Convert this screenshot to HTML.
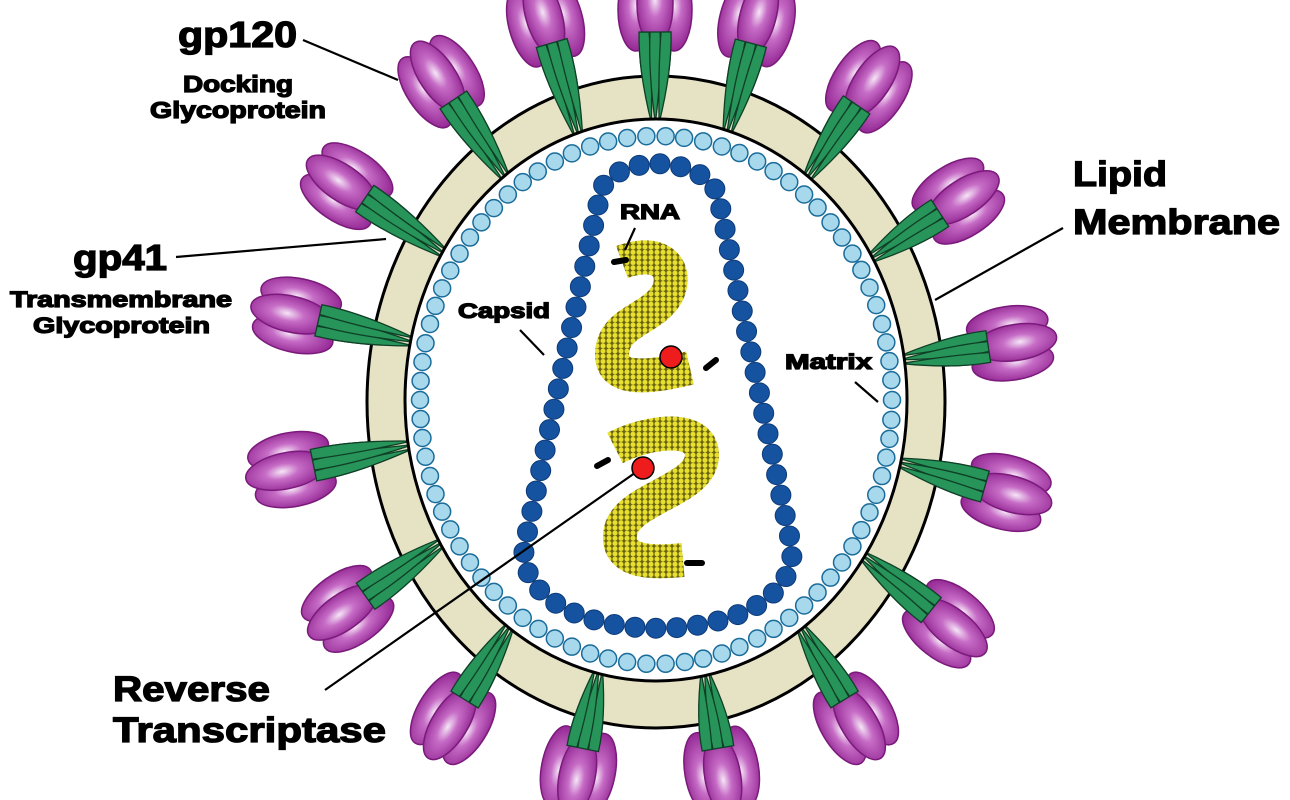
<!DOCTYPE html>
<html><head><meta charset="utf-8"><style>
html,body{margin:0;padding:0;background:#fff;width:1290px;height:800px;overflow:hidden}
svg{display:block}
text{font-family:"Liberation Sans",sans-serif;font-weight:bold;fill:#000;stroke:#000;stroke-width:1.3px}
</style></head><body>
<svg id="s" width="1290" height="800" viewBox="0 0 1290 800" xmlns="http://www.w3.org/2000/svg">
<defs>
<radialGradient id="pg" cx="0.5" cy="0.45" r="0.6">
<stop offset="0" stop-color="#f6e6f6"/><stop offset="0.35" stop-color="#c66cc6"/><stop offset="1" stop-color="#8e1f8e"/>
</radialGradient>
<pattern id="dots" width="6" height="5.2" patternUnits="userSpaceOnUse">
<rect width="6" height="5.2" fill="#6b6410"/>
<circle cx="3" cy="2.6" r="2.5" fill="#e8e030"/>
</pattern>
</defs>
<g id="spikes"></g>
<ellipse cx="656" cy="402" rx="289" ry="326" fill="#e6e2c4" stroke="#000" stroke-width="3"/>
<g id="stems"></g>
<ellipse cx="656" cy="400" rx="251" ry="281" fill="#fff" stroke="#000" stroke-width="3"/>
<g id="matrix"></g>
<g id="capsid"></g>
<path d="M622,262 C660,248 678,268 668,292 C655,320 612,320 612,355 C612,385 660,375 690,368" fill="none" stroke="url(#dots)" stroke-width="34" stroke-linejoin="round"/>
<path d="M615,448 C650,430 702,425 702,455 C702,492 622,498 620,535 C618,566 660,562 683,560" fill="none" stroke="url(#dots)" stroke-width="34" stroke-linejoin="round"/>
<g stroke="#000" stroke-width="6" stroke-linecap="round">
<line x1="614" y1="262" x2="626" y2="260"/>
<line x1="706" y1="368" x2="716" y2="360"/>
<line x1="597" y1="466" x2="608" y2="460"/>
<line x1="687" y1="563" x2="702" y2="563"/>
</g>
<g stroke="#000" stroke-width="2.2">
<line x1="303" y1="40" x2="398" y2="80"/>
<line x1="176" y1="257" x2="386" y2="239"/>
<line x1="935" y1="300" x2="1063" y2="228"/>
<line x1="520" y1="330" x2="544" y2="355"/>
<line x1="635" y1="228" x2="625" y2="250"/>
<line x1="855" y1="382" x2="878" y2="402"/>
<line x1="325" y1="690" x2="642" y2="468"/>
</g>
<circle cx="671" cy="357" r="11" fill="#ee1c1c" stroke="#000" stroke-width="1.5"/>
<circle cx="643" cy="468" r="11" fill="#ee1c1c" stroke="#000" stroke-width="1.5"/>
<g lengthAdjust="spacingAndGlyphs">
<text x="178" y="47" font-size="36" textLength="119" lengthAdjust="spacingAndGlyphs">gp120</text>
<text x="183" y="92" font-size="23" textLength="110" lengthAdjust="spacingAndGlyphs">Docking</text>
<text x="150" y="118" font-size="23" textLength="176" lengthAdjust="spacingAndGlyphs">Glycoprotein</text>
<text x="73" y="270" font-size="36" textLength="94" lengthAdjust="spacingAndGlyphs">gp41</text>
<text x="10" y="307" font-size="22" textLength="222" lengthAdjust="spacingAndGlyphs">Transmembrane</text>
<text x="33" y="333" font-size="22" textLength="177" lengthAdjust="spacingAndGlyphs">Glycoprotein</text>
<text x="1073" y="186" font-size="35" textLength="94" lengthAdjust="spacingAndGlyphs">Lipid</text>
<text x="1073" y="234" font-size="35" textLength="207" lengthAdjust="spacingAndGlyphs">Membrane</text>
<text x="458" y="318" font-size="21" textLength="92" lengthAdjust="spacingAndGlyphs">Capsid</text>
<text x="620" y="219" font-size="21" textLength="60" lengthAdjust="spacingAndGlyphs">RNA</text>
<text x="785" y="369" font-size="21" textLength="87" lengthAdjust="spacingAndGlyphs">Matrix</text>
<text x="113" y="701" font-size="35" textLength="157" lengthAdjust="spacingAndGlyphs">Reverse</text>
<text x="113" y="742" font-size="35" textLength="273" lengthAdjust="spacingAndGlyphs">Transcriptase</text>
</g>
</svg>
<script>
var NS="http://www.w3.org/2000/svg";
function el(t,a,p){var e=document.createElementNS(NS,t);for(var k in a)e.setAttribute(k,a[k]);p.appendChild(e);return e;}
var cx=656,cy=400;
var m=document.getElementById("matrix");
var pts=[];for(var i=0;i<2000;i++){var t=i/2000*2*Math.PI;pts.push([cx+236*Math.cos(t),cy+264*Math.sin(t)]);}
var L=0,acc=[0];for(var i=1;i<pts.length;i++){L+=Math.hypot(pts[i][0]-pts[i-1][0],pts[i][1]-pts[i-1][1]);acc.push(L);}
var n=Math.round(L/19.2),j=0;
for(var k=0;k<n;k++){var d=k*L/n;while(acc[j]<d)j++;el("circle",{cx:pts[j][0],cy:pts[j][1],r:8.5,fill:"#a8d8ec",stroke:"#1a6c9a","stroke-width":1.5},m);}
var c=document.getElementById("capsid");
var tp=el("path",{d:"M598,205 C596,150 716,150 720,205 L792,548 C798,655 518,655 524,548 Z",fill:"none"},c);
var TL=tp.getTotalLength(),cn=Math.round(TL/21);
for(var k=0;k<cn;k++){var p=tp.getPointAtLength(k*TL/cn);el("circle",{cx:p.x,cy:p.y,r:10,fill:"#1553a0",stroke:"#0d3a78","stroke-width":1},c);}
var heads=[[440,80],[545,20],[655,8],[757,20],[870,85],[960,200],[1012,343],[1008,493],[950,625],[857,720],[722,772],[578,772],[452,720],[346,610],[290,470],[295,315],[345,185]];
var sg=document.getElementById("spikes"),st=document.getElementById("stems");
heads.forEach(function(h){
 var a=Math.atan2((h[1]-402)/326,(h[0]-656)/289);
 var pin=[656+251*Math.cos(a),400+281*Math.sin(a)];
 var dx=h[0]-pin[0],dy=h[1]-pin[1],D=Math.hypot(dx,dy);
 var ang=Math.atan2(dy,dx)*180/Math.PI+90;
 var tr="translate("+h[0]+","+h[1]+") rotate("+ang+")";
 var g=el("g",{transform:tr},st);
 var g2=el("g",{transform:tr},sg);
 [-11,0,11].forEach(function(o){
  var y0=24,y1=D+4,ym=(y0+y1)*0.45;
  var pd="M"+(o-5)+","+y0+" Q"+(o*0.9-7)+","+ym+" "+(o*0.35)+","+y1+" Q"+(o*0.9+7)+","+ym+" "+(o+5)+","+y0+" Z";
  el("path",{d:pd,fill:"#27945a",stroke:"#0f3f26","stroke-width":1.3},g);
  el("path",{d:pd,fill:"#27945a",stroke:"#0f3f26","stroke-width":1.3},g2);
 });
 [[-19,2],[19,2],[0,-4]].forEach(function(q){
  el("ellipse",{cx:q[0],cy:q[1],rx:18,ry:41,fill:"url(#pg)",stroke:"#7a1a7a","stroke-width":1.5},g2);
 });
});
</script>
</body></html>
